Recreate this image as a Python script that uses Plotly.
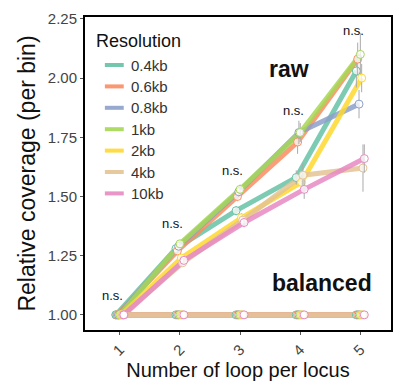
import plotly.graph_objects as go

loops = [1, 2, 3, 4, 5]
tick_labels = ["1", "2", "3", "4", "5"]
resolutions = ["0.4kb", "0.6kb", "0.8kb", "1kb", "2kb", "4kb", "10kb"]
colors = ["#66C2A5", "#FC8D62", "#8DA0CB", "#A6D854", "#FFD92F", "#E5C494", "#E78AC3"]

raw_values = {
    "0.4kb": [1.0, 1.28, 1.44, 1.58, 2.03],
    "0.6kb": [1.0, 1.27, 1.50, 1.73, 2.08],
    "0.8kb": [1.0, 1.29, 1.52, 1.77, 1.89],
    "1kb":   [1.0, 1.30, 1.53, 1.77, 2.10],
    "2kb":   [1.0, 1.24, 1.41, 1.56, 2.00],
    "4kb":   [1.0, 1.22, 1.40, 1.59, 1.62],
    "10kb":  [1.0, 1.23, 1.39, 1.53, 1.66],
}
raw_errors = {
    "0.4kb": [0.0, 0.01, 0.02, 0.03, 0.07],
    "0.6kb": [0.0, 0.01, 0.02, 0.05, 0.07],
    "0.8kb": [0.0, 0.01, 0.02, 0.05, 0.06],
    "1kb":   [0.0, 0.01, 0.02, 0.04, 0.09],
    "2kb":   [0.0, 0.01, 0.02, 0.03, 0.06],
    "4kb":   [0.0, 0.01, 0.02, 0.05, 0.10],
    "10kb":  [0.0, 0.01, 0.02, 0.04, 0.06],
}
balanced_values = {r: [1.0, 1.0, 1.0, 1.0, 1.0] for r in resolutions}
balanced_order = ["0.4kb", "0.6kb", "0.8kb", "1kb", "2kb", "10kb", "4kb"]

ns_labels = ["n.s.", "n.s.", "n.s.", "n.s.", "n.s."]
ns_y = [1.08, 1.385, 1.61, 1.865, 2.20]

FONT = "Liberation Sans, Arial, sans-serif"

# plot area in pixels (for placing the hand-made legend)
W, H = 396, 381
ML, MR, MT, MB = 85, 3, 17, 51
PW, PH = W - ML - MR, H - MT - MB


def px(x):
    return (x - ML) / PW


def py(y):
    return (H - MB - y) / PH


fig = go.Figure()
n = len(resolutions)
offsets = {r: (i - (n - 1) / 2) * 0.022 for i, r in enumerate(resolutions)}
color_of = dict(zip(resolutions, colors))

for res in resolutions:
    xs = [x + offsets[res] for x in loops]
    fig.add_trace(go.Scatter(
        x=xs, y=raw_values[res], mode="lines",
        line=dict(color=color_of[res], width=5), opacity=0.85,
        name=res, showlegend=False, hoverinfo="skip",
    ))
for res in balanced_order:
    xs = [x + offsets[res] for x in loops]
    fig.add_trace(go.Scatter(
        x=xs, y=balanced_values[res], mode="lines",
        line=dict(color=color_of[res], width=5), opacity=0.9,
        name=res, showlegend=False, hoverinfo="skip",
    ))

for res in resolutions:
    xs = [x + offsets[res] for x in loops]
    fig.add_trace(go.Scatter(
        x=xs, y=raw_values[res], mode="markers",
        marker=dict(symbol="circle", size=8, color="rgba(255,255,255,0.75)",
                    line=dict(color=color_of[res], width=1)),
        error_y=dict(type="data", array=raw_errors[res], color="#AAAAAA",
                     thickness=1, width=0),
        showlegend=False,
    ))
    fig.add_trace(go.Scatter(
        x=xs, y=balanced_values[res], mode="markers",
        marker=dict(symbol="circle", size=8, color="rgba(255,255,255,0.75)",
                    line=dict(color=color_of[res], width=1)),
        showlegend=False,
    ))

for x, y, t in zip(loops, ns_y, ns_labels):
    fig.add_annotation(x=x - 0.12, y=y, text=t, showarrow=False,
                       font=dict(family=FONT, size=13, color="#111"))

fig.add_annotation(x=3.81, y=2.04, text="<b>raw</b>", showarrow=False,
                   font=dict(family=FONT, size=23, color="#111"))
fig.add_annotation(x=4.36, y=1.135, text="<b>balanced</b>", showarrow=False,
                   font=dict(family=FONT, size=23, color="#111"))

# hand-made legend
fig.add_annotation(xref="paper", yref="paper", x=px(94), y=py(41),
                   xanchor="left", yanchor="middle", showarrow=False,
                   text="Resolution", font=dict(family=FONT, size=18, color="#111"))
for k, (res, col) in enumerate(zip(resolutions, colors)):
    yc = 65 + k * 21.4
    fig.add_shape(type="line", xref="paper", yref="paper",
                  x0=px(105), x1=px(124), y0=py(yc), y1=py(yc),
                  line=dict(color=col, width=4), opacity=0.9)
    fig.add_annotation(xref="paper", yref="paper", x=px(129), y=py(yc),
                       xanchor="left", yanchor="middle", showarrow=False,
                       text=res, font=dict(family=FONT, size=15, color="#333"))

fig.update_layout(
    width=W, height=H,
    margin=dict(l=ML, r=MR, t=MT, b=MB),
    paper_bgcolor="white", plot_bgcolor="white",
    font=dict(family=FONT, color="#222"),
    showlegend=False,
    xaxis=dict(
        range=[0.42, 5.51], tickvals=loops, ticktext=tick_labels,
        tickangle=-45, showgrid=False, zeroline=False,
        showline=True, linecolor="black", linewidth=2, mirror=True,
        ticks="outside", ticklen=3, tickcolor="#555",
        tickfont=dict(size=15, color="#444"),
        title=dict(text="Number of loop per locus", font=dict(size=20, color="#111"), standoff=2),
    ),
    yaxis=dict(
        range=[0.936, 2.258], tickvals=[1.0, 1.25, 1.5, 1.75, 2.0, 2.25],
        ticktext=["1.00", "1.25", "1.50", "1.75", "2.00", "2.25"],
        showgrid=False, zeroline=False,
        showline=True, linecolor="black", linewidth=2, mirror=True,
        ticks="outside", ticklen=3, tickcolor="#555",
        tickfont=dict(size=15, color="#444"),
        title=dict(text="Relative coverage (per bin)", font=dict(size=23, color="#111"), standoff=6),
    ),
)

fig.write_html("out.html")
